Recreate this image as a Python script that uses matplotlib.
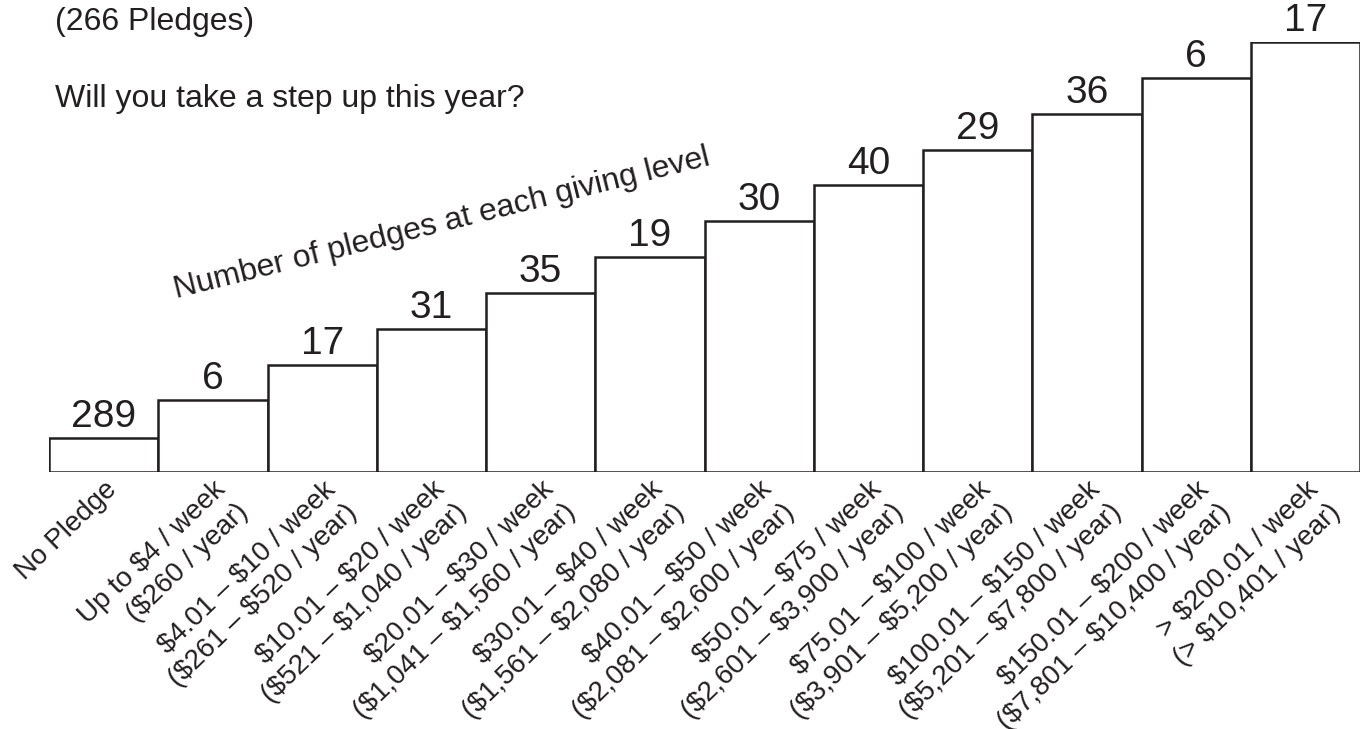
import numpy as np
import matplotlib.pyplot as plt

plt.rcParams['font.family'] = ['Liberation Sans', 'DejaVu Sans']
plt.rcParams['text.parse_math'] = False

# giving levels, left to right
levels = ['No Pledge',
          'Up to $4 / week\n($260 / year)',
          '$4.01 – $10 / week\n($261 – $520 / year)',
          '$10.01 – $20 / week\n($521 – $1,040 / year)',
          '$20.01 – $30 / week\n($1,041 – $1,560 / year)',
          '$30.01 – $40 / week\n($1,561 – $2,080 / year)',
          '$40.01 – $50 / week\n($2,081 – $2,600 / year)',
          '$50.01 – $75 / week\n($2,601 – $3,900 / year)',
          '$75.01 – $100 / week\n($3,901 – $5,200 / year)',
          '$100.01 – $150 / week\n($5,201 – $7,800 / year)',
          '$150.01 – $200 / week\n($7,801 – $10,400 / year)',
          '> $200.01 / week\n(> $10,401 / year)']
# number of pledges at each level (shown as labels)
pledges = [289, 6, 17, 31, 35, 19, 30, 40, 29, 36, 6, 17]
# staircase step of each bar (not proportional to counts)
steps = [0.95, 2, 3, 4, 5, 6, 7, 8, 9, 10, 11, 12]

ink = '#231f20'

fig = plt.figure(figsize=(13.64, 7.29), dpi=100)
ax = fig.add_axes([49 / 1364, 257 / 729, 1311 / 1364, 430 / 729])

x = np.arange(len(levels))
ax.bar(x, steps, width=1.0, color='white', edgecolor=ink, linewidth=1.8)

for xi, h, n in zip(x, steps, pledges):
    ax.text(xi, h + 0.08, str(n), ha='center', va='bottom', fontsize=28,
            color=ink, clip_on=False)

ax.set_xlim(-0.5, len(levels) - 0.5)
ax.set_ylim(0, 12)
ax.set_xticks(x)
ax.set_xticklabels(levels, rotation=44, ha='right', va='top',
                   rotation_mode='anchor', fontsize=20, color=ink,
                   linespacing=1.3)
ax.tick_params(axis='x', length=0, pad=3)
ax.set_yticks([])
for s in ax.spines.values():
    s.set_visible(False)

fig.text(55 / 1364, 1 - 7 / 729, '(266 Pledges)', ha='left', va='top',
         fontsize=23, color=ink)
fig.text(55 / 1364, 1 - 84 / 729, 'Will you take a step up this year?',
         ha='left', va='top', fontsize=23, color=ink)
fig.text(176 / 1364, 1 - 298 / 729, 'Number of pledges at each giving level',
         ha='left', va='baseline', rotation=14, rotation_mode='anchor',
         fontsize=23, color=ink)

fig.savefig('out.png', dpi=100)
